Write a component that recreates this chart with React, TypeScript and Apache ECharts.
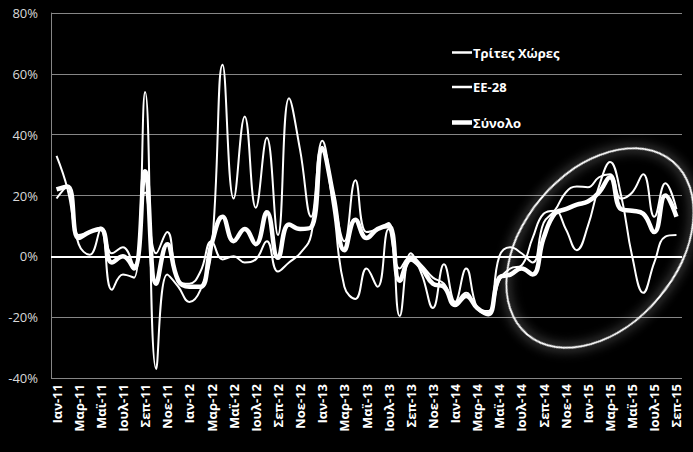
import React, { useEffect, useRef } from "react";
import * as echarts from "echarts";

const monthNames = ["Ιαν", "Φεβ", "Μαρ", "Απρ", "Μαϊ", "Ιουν", "Ιουλ", "Αυγ", "Σεπ", "Οκτ", "Νοε", "Δεκ"];
const years = ["11", "12", "13", "14", "15"];
const categories: string[] = [];
years.forEach((y) => monthNames.forEach((m) => categories.push(m + "-" + y)));
categories.length = 57; // Ιαν-11 .. Σεπ-15

const seriesNames = ["Τρίτες Χώρες", "ΕΕ-28", "Σύνολο"];
const seriesWidths = [2, 2, 4.5];

const tritesXores = [
  33, 22, 4, 0.5, 9, -11, -6, -7, 54, -37,
  -6, -10, -15, -11, 2, 63, 19, 46, 16, 39,
  7, 52, 35, 13, 38, 20, 5, 25, 8, 9,
  11, -19.6, 1, -6, -17, -2.6, -15, -4, -17, -19,
  -8, -4, -3, 6, 14, 15, 9, 2, 10, 23,
  31, 20, 0, -12, -2, 6.5, 7,
];

const ee28 = [
  19, 23, 7, 8, 9.5, 1, 3, -3, 21, 1,
  8, -8, -9, -5, 5, -1, 0, -2, -1, 5,
  -5, -2, 1, 7, 36, 16, -10, -14, -4, -10,
  9, -4, 0, -3, -7, -9, -15, -12, -17, -18,
  0, 3, 1, -2, 11, 15, 21, 23, 22.7, 26,
  27, 19, 21, 27, 13, 24, 15.5,
];

const synolo = [
  22, 23, 6, 8, 9, -2, 0, -4, 28, -9,
  4, -8, -10, -10, 4, 13, 5, 9, 4, 14.5,
  -0.5, 10.5, 9, 9.5, 35, 20, 2, 12, 6, 9,
  10, -8, -1, -4, -9, -10, -16, -13, -17, -19,
  -7, -6, -4, -6, 6, 14, 15.5, 17, 18, 21,
  26, 15.5, 15, 14, 8, 20, 13,
];

const yTicks = { min: -40, max: 80, interval: 20 };

export default function App() {
  const ref = useRef<HTMLDivElement>(null);
  useEffect(() => {
    if (!ref.current) return;
    const chart = echarts.init(ref.current, undefined, { renderer: "svg" });
    const dataSets = [tritesXores, ee28, synolo];
    const series: any[] = seriesNames.map((name, i) => ({
      name,
      type: "line",
      data: dataSets[i],
      smooth: 0.45,
      symbol: "none",
      lineStyle: { color: "#ffffff", width: seriesWidths[i] },
      itemStyle: { color: "#ffffff" },
    }));
    series[0].markLine = {
      silent: true,
      symbol: "none",
      label: { show: false },
      lineStyle: { color: "#ffffff", width: 2, type: "solid" },
      data: [{ yAxis: 0 }],
    };

    const legendY = [52.5, 87, 122.5];
    const legendGraphics: any[] = [];
    seriesNames.forEach((name, i) => {
      legendGraphics.push({
        type: "line",
        shape: { x1: 452, y1: legendY[i], x2: 472, y2: legendY[i] },
        style: { stroke: "#ffffff", lineWidth: seriesWidths[i] + (i === 2 ? 0 : 0.5) },
        z: 100,
      });
      legendGraphics.push({
        type: "text",
        x: 473,
        y: legendY[i],
        style: {
          text: name,
          fill: "#ffffff",
          font: "bold 13px 'Open Sans'",
          verticalAlign: "middle",
          align: "left",
        },
        z: 100,
      });
    });

    chart.setOption({
      animation: false,
      backgroundColor: "#000000",
      grid: { left: 51, right: 11, top: 13, bottom: 74, containLabel: false },
      xAxis: {
        type: "category",
        data: categories,
        boundaryGap: true,
        axisLine: { show: false },
        axisTick: { show: false },
        axisLabel: {
          interval: 1,
          rotate: 90,
          margin: 6,
          color: "#ffffff",
          fontFamily: "Open Sans",
          fontWeight: "bold",
          fontSize: 13,
        },
        splitLine: { show: false },
      },
      yAxis: {
        type: "value",
        min: yTicks.min,
        max: yTicks.max,
        interval: yTicks.interval,
        axisLine: { show: true, lineStyle: { color: "#868686", width: 1 } },
        axisTick: { show: false },
        axisLabel: {
          formatter: "{value}%",
          color: "#d9d9d9",
          fontFamily: "Open Sans",
          fontSize: 13,
          margin: 13,
        },
        splitLine: { show: true, lineStyle: { color: "#868686", width: 1 } },
      },
      series,
      graphic: [
        ...legendGraphics,
        {
          type: "ellipse",
          x: 600,
          y: 248,
          rotation: (50 * Math.PI) / 180,
          shape: { cx: 0, cy: 0, rx: 113, ry: 77 },
          style: {
            fill: "none",
            stroke: "#ffffff",
            lineWidth: 2,
            shadowBlur: 12,
            shadowColor: "rgba(255,255,255,0.95)",
          },
          z: 100,
        },
      ],
    });
    return () => chart.dispose();
  }, []);
  return (
    <div
      ref={ref}
      style={{ position: "fixed", left: 0, top: 0, width: 693, height: 452, background: "#000" }}
    />
  );
}
